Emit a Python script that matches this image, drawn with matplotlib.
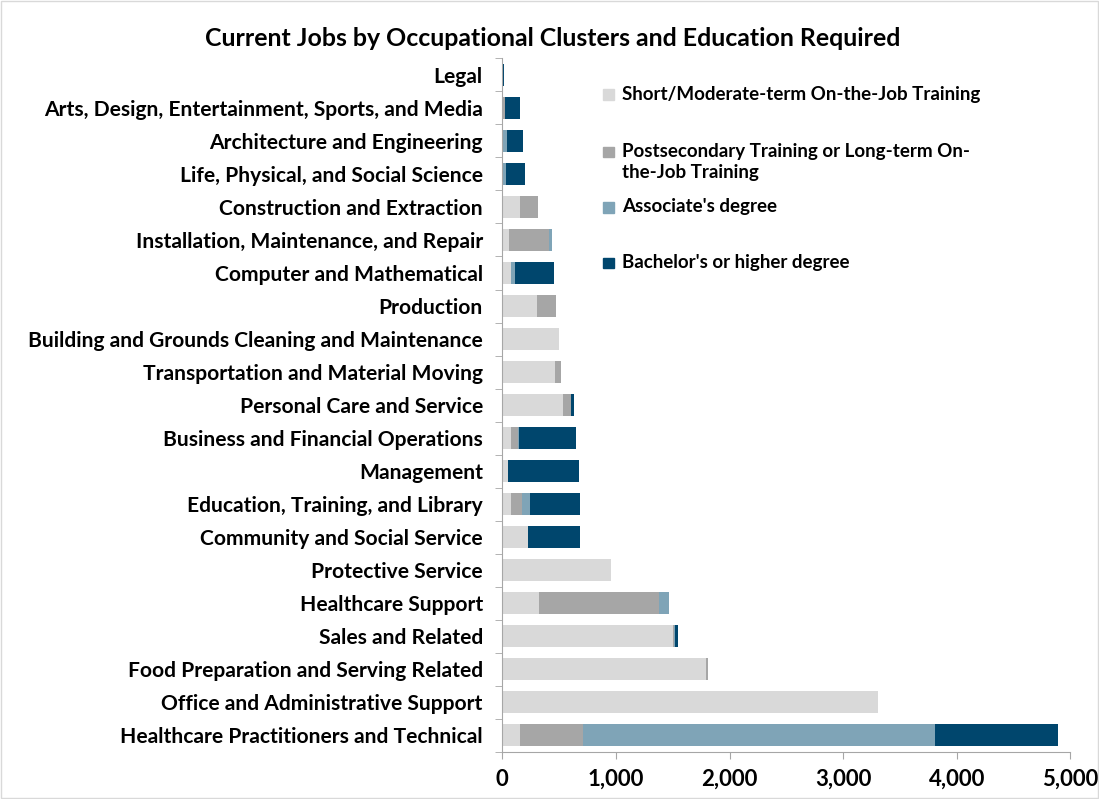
import numpy as np
import matplotlib.pyplot as plt
from matplotlib.patches import Rectangle

plt.rcParams['font.family'] = ['Lato', 'DejaVu Sans']

# Categorias, de cima para baixo
categorias = [
    'Legal',
    'Arts, Design, Entertainment, Sports, and Media',
    'Architecture and Engineering',
    'Life, Physical, and Social Science',
    'Construction and Extraction',
    'Installation, Maintenance, and Repair',
    'Computer and Mathematical',
    'Production',
    'Building and Grounds Cleaning and Maintenance',
    'Transportation and Material Moving',
    'Personal Care and Service',
    'Business and Financial Operations',
    'Management',
    'Education, Training, and Library',
    'Community and Social Service',
    'Protective Service',
    'Healthcare Support',
    'Sales and Related',
    'Food Preparation and Serving Related',
    'Office and Administrative Support',
    'Healthcare Practitioners and Technical',
]

curto     = [0, 10, 5, 5, 153, 56, 74, 305, 500, 468, 535, 80, 53, 80, 224, 960, 320, 1500, 1790, 3310, 160]
pos_sec   = [0, 14, 0, 0, 162, 359, 0, 170, 0, 50, 68, 60, 0, 95, 0, 0, 1063, 15, 22, 0, 550]
associado = [5, 0, 40, 32, 0, 20, 35, 0, 0, 0, 0, 5, 0, 70, 0, 0, 81, 5, 0, 0, 3100]
bacharel  = [12, 130, 141, 165, 0, 0, 344, 0, 0, 0, 29, 505, 620, 435, 464, 0, 0, 25, 0, 0, 1085]

series = ['Short/Moderate-term On-the-Job Training',
          'Postsecondary Training or Long-term On-\nthe-Job Training',
          "Associate's degree",
          "Bachelor's or higher degree"]
cores = ['#D9D9D9', '#A6A6A6', '#7FA4B7', '#00466D']

fig = plt.figure(figsize=(10.99, 7.99), dpi=100)
ax = fig.add_axes([0.457, 0.059, 0.517, 0.868])

y = np.arange(len(categorias))
esquerda = np.zeros(len(categorias))
for valores, cor in zip([curto, pos_sec, associado, bacharel], cores):
    ax.barh(y, valores, left=esquerda, color=cor, height=0.66)
    esquerda = esquerda + np.array(valores)

ax.set_ylim(len(categorias) - 0.5, -0.5)
ax.set_xlim(0, 5000)
ax.set_xticks(range(0, 5001, 1000))
ax.set_xticklabels(['0', '1,000', '2,000', '3,000', '4,000', '5,000'],
                   fontsize=16, fontweight='bold')
ax.set_yticks(y)
ax.set_yticklabels(categorias, fontsize=15.1, fontweight='bold')
ax.set_yticks(np.arange(-0.5, len(categorias), 1), minor=True)
ax.tick_params(axis='y', which='major', length=0, pad=14)
ax.tick_params(axis='y', which='minor', length=5, color='#A6A6A6')
ax.tick_params(axis='x', length=5, color='#A6A6A6', pad=7)

for lado in ['top', 'right']:
    ax.spines[lado].set_visible(False)
for lado in ['left', 'bottom']:
    ax.spines[lado].set_color('#A6A6A6')

fig.text(0.503, 0.952, 'Current Jobs by Occupational Clusters and Education Required',
         ha='center', va='center', fontsize=17.9, fontweight='bold')

# Legenda manual (estilo Excel)
leg_y = [0.882, 0.810, 0.741, 0.671]
for nome, cor, ly in zip(series, cores, leg_y):
    fig.patches.append(Rectangle((0.549, ly - 0.007), 0.0095, 0.013,
                                 transform=fig.transFigure, color=cor))
    for k, linha in enumerate(nome.split('\n')):
        fig.text(0.566, ly - k * 0.0263, linha, va='center',
                 fontsize=13.5, fontweight='bold')

# Borda do gráfico
fig.patches.append(Rectangle((0.001, 0.001), 0.998, 0.998, transform=fig.transFigure,
                             fill=False, edgecolor='#D9D9D9', linewidth=1))

plt.savefig('out.png')
